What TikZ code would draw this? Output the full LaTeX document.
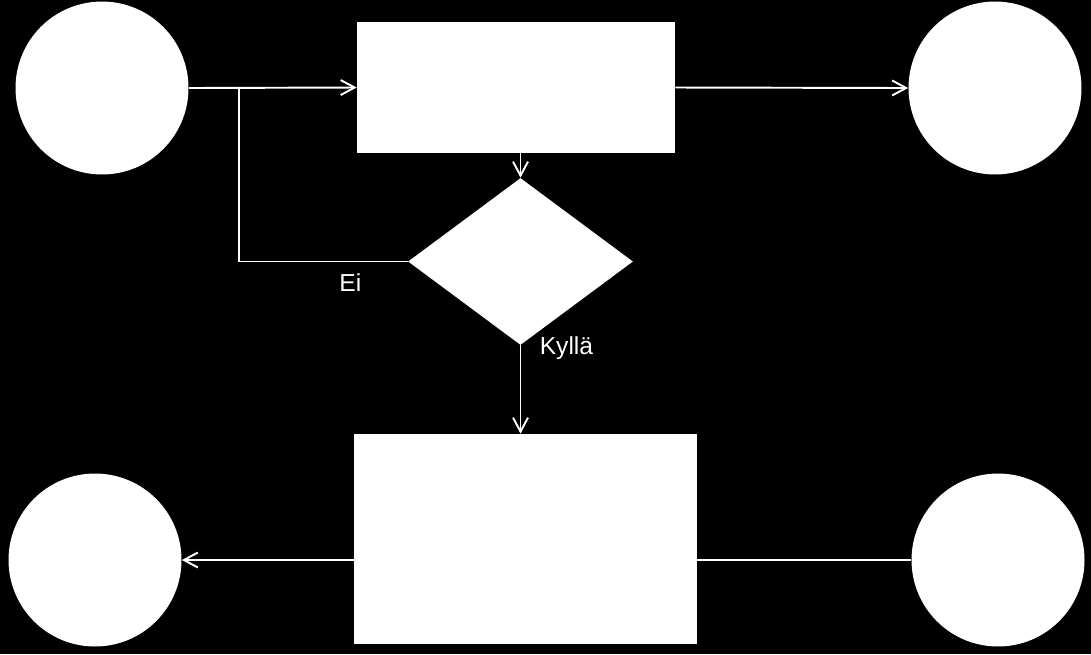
\documentclass[tikz,border=0pt]{standalone}
\usepackage{fontspec}
\setmainfont{Liberation Sans}
\usetikzlibrary{arrows.meta}
\usetikzlibrary{shapes}
\usetikzlibrary{positioning}

\tikzset{
  blob/.style={circle, fill=white, minimum size=3.46cm, inner sep=0pt},
  box/.style={rectangle, fill=white, inner sep=0pt},
  ask/.style={diamond, fill=white, minimum width=4.5cm, minimum height=3.34cm, inner sep=0pt},
  link/.style={draw=white, line width=1.1pt},
  tag/.style={text=white, font=\fontsize{14}{16}\selectfont}
}

\begin{document}
\begin{tikzpicture}[x=0.02cm, y=-0.02cm, >={Straight Barb[length=2.8mm, width=3mm]}]

        \fill[black] (0,0) rectangle (1091,654);

        \node[blob]                                        (c_1) at (102,88)    {};
        \node[box, minimum width=6.36cm, minimum height=2.62cm] (b_1) at (516,87.5) {};
        \node[blob]                                        (c_2) at (995,88)    {};
        \node[ask]                                         (d_1) at (520.5,261.5) {};
        \node[box, minimum width=6.86cm, minimum height=4.2cm]  (b_2) at (525.5,539) {};
        \node[blob]                                        (c_3) at (95,560)    {};
        \node[blob]                                        (c_4) at (998,560)   {};

        \coordinate (split) at (239,88);

        \path[link]
          (c_1.east)              edge [->]  (b_1.west)
          (b_1.east)              edge [->]  (c_2.west)
          (d_1.north |- b_1.south) edge [->] (d_1.north)
          (d_1.south)             edge [->]  node[tag, pos=0.034, right, xshift=2.5mm] {Kyllä} (d_1.south |- b_2.north)
          (b_2.west |- c_3.east)  edge [->]  (c_3.east);

        \draw[link] (d_1.west) -| node[tag, pos=0.17, below=1.1mm] {Ei} (split);
        \draw[link] (c_4.west) -- (b_2.east |- c_4.west);

      \end{tikzpicture}
\end{document}
